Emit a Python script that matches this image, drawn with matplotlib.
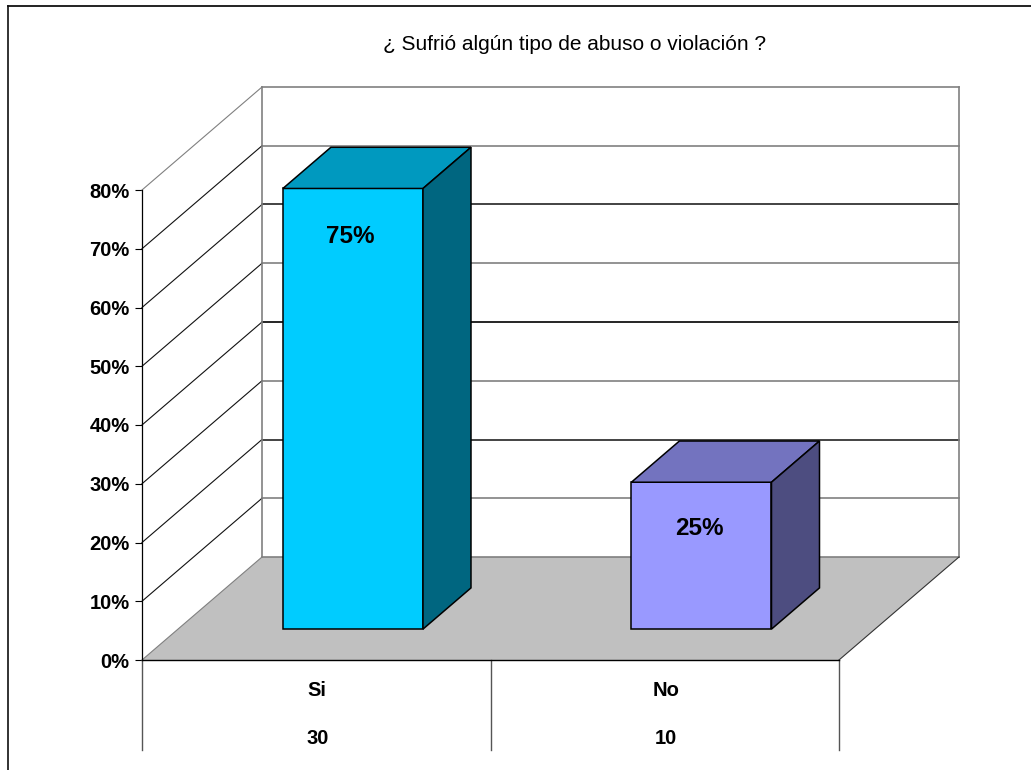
import matplotlib
matplotlib.use('Agg')
import matplotlib.pyplot as plt
from matplotlib.patches import Polygon

plt.rcParams['font.family'] = ['Liberation Sans', 'DejaVu Sans']

# datos de la encuesta
titulo = '¿ Sufrió algún tipo de abuso o violación ?'
categorias = ['Si', 'No']
porcentajes = [75, 25]
conteos = [30, 10]
ticks_y = [0, 10, 20, 30, 40, 50, 60, 70, 80]

# colores de cada barra: frente, tapa, lateral
colores = [('#00CCFF', '#0099BF', '#006680'),
           ('#9999FF', '#7373BF', '#4D4D80')]
color_grid = ['#808080', '#808080', '#222222', '#808080', '#000000',
              '#808080', '#222222', '#808080', '#808080']
# bajada de la etiqueta respecto a la arista superior de cada barra
bajada = [8.2, 7.9]

W, H = 1031, 770
# desplazamiento de la profundidad en unidades de los ejes
DX = 120 / 348.5
DY = 103 / 5.875


def prof(x, y, d):
    return x + d * DX, y + d * DY


fig = plt.figure(figsize=(W / 100, H / 100), dpi=100)
ax = fig.add_axes([142 / W, (H - 660) / H, 697 / W, 470 / H])
ax.set_xlim(0, 2)
ax.set_ylim(0, 80)
ax.patch.set_visible(False)

# suelo gris
suelo = [prof(0, 0, 0), prof(2, 0, 0), prof(2, 0, 1), prof(0, 0, 1)]
ax.add_patch(Polygon(suelo, closed=True, fc='#C0C0C0', ec='none', zorder=1, clip_on=False))

# lineas de la pared del fondo y de la pared lateral
for i, v in enumerate(ticks_y):
    x0, y0 = prof(0, v, 1)
    x1, y1 = prof(2, v, 1)
    ax.plot([x0, x1], [y0, y1], color=color_grid[i], lw=1.2, zorder=2, clip_on=False)
    ax.plot([0, x0], [v, y0], color='#808080' if v in (0, 80) else '#111111',
            lw=0.8, zorder=2, clip_on=False)

xa, ya = prof(0, 0, 1)
xb, yb = prof(0, 80, 1)
ax.plot([xa, xb], [ya, yb], color='#808080', lw=1.2, zorder=2, clip_on=False)
xa, ya = prof(2, 0, 1)
xb, yb = prof(2, 80, 1)
ax.plot([xa, xb], [ya, yb], color='#808080', lw=1.2, zorder=2, clip_on=False)
ax.plot([2, xa], [0, ya], color='#333333', lw=0.8, zorder=2, clip_on=False)

# barras en 3d
ancho = 0.402
d0, d1 = 0.3, 0.7
for i, v in enumerate(porcentajes):
    c = colores[i]
    x0 = i + 0.502 - ancho / 2
    x1 = x0 + ancho
    frente = [prof(x0, 0, d0), prof(x1, 0, d0), prof(x1, v, d0), prof(x0, v, d0)]
    tapa = [prof(x0, v, d0), prof(x1, v, d0), prof(x1, v, d1), prof(x0, v, d1)]
    lateral = [prof(x1, 0, d0), prof(x1, 0, d1), prof(x1, v, d1), prof(x1, v, d0)]
    for puntos, color in zip((frente, tapa, lateral), c):
        ax.add_patch(Polygon(puntos, closed=True, fc=color, ec='black', lw=1.1,
                             joinstyle='miter', zorder=3, clip_on=False))
    xt, yt = prof(i + 0.5, v, d0)
    ax.text(xt - 0.005, yt - bajada[i], f'{v}%', ha='center', va='center', fontsize=17.5,
            fontweight='bold', color='black', zorder=4)

# eje y con sus marcas
ax.set_xticks([])
ax.set_yticks(ticks_y)
ax.set_yticklabels([f'{v}%' for v in ticks_y], fontsize=14.5, fontweight='bold', va='center_baseline')
ax.tick_params(axis='y', length=5, width=0.8, pad=4, color='black')
ax.spines['top'].set_visible(False)
ax.spines['right'].set_visible(False)
ax.spines['left'].set_linewidth(0.9)
ax.spines['bottom'].set_linewidth(1.0)
ax.spines['left'].set_zorder(5)
ax.spines['bottom'].set_zorder(5)

# tabla de categorias bajo el eje
for x in range(len(categorias) + 1):
    ax.plot([x, x], [0, -15.4], color='#555555', lw=1.0, zorder=2, clip_on=False)
for i, (cat, n) in enumerate(zip(categorias, conteos)):
    ax.text(i + 0.503, -4.9, cat, ha='center', va='center_baseline', fontsize=14.5, fontweight='bold')
    ax.text(i + 0.503, -13.1, str(n), ha='center', va='center_baseline', fontsize=14.5, fontweight='bold')

fig.text(575 / W, 1 - 50 / H, titulo, ha='center', va='baseline', fontsize=15, color='black')

# marco exterior: solo arriba y a la izquierda
fig.add_artist(plt.Line2D([8 / W, 8 / W], [0, 1 - 5.5 / H], color='#222222', lw=1.3))
fig.add_artist(plt.Line2D([8 / W, 1], [1 - 5.5 / H, 1 - 5.5 / H], color='#111111', lw=1.3))

fig.savefig('out.png', dpi=100)
